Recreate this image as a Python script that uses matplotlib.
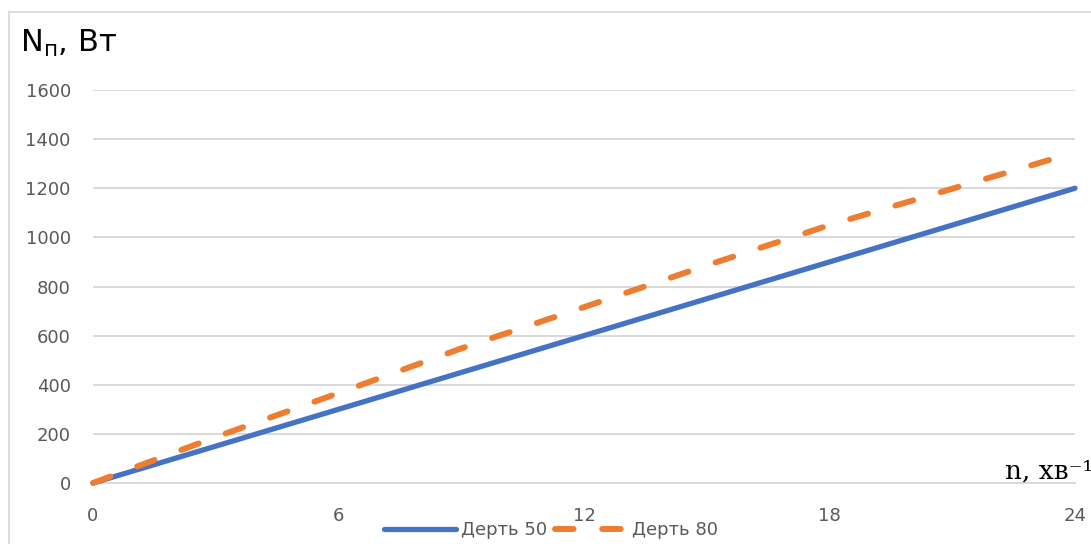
import matplotlib
matplotlib.use('Agg')
import matplotlib.pyplot as plt
from matplotlib.patches import Rectangle

# speed, 1/min
n = [0, 3, 6, 9, 12, 15, 18, 21, 24]
# power for the two feed types, W
power_50 = [0, 150, 300, 450, 600, 750, 900, 1050, 1200]
power_80 = [0, 187, 366, 548, 716, 886, 1050, 1198, 1346]

x_ticks = [0, 6, 12, 18, 24]
y_ticks = [0, 200, 400, 600, 800, 1000, 1200, 1400, 1600]

BLUE = '#4472C4'
ORANGE = '#ED7D31'
GREY = '#595959'
GRID = '#d9d9d9'

plt.rcParams['font.family'] = ['DejaVu Sans']

W, H = 1091, 544
fig = plt.figure(figsize=(W / 100, H / 100), dpi=100)

# outer chart frame (runs off the right and bottom edges)
fig.patches.append(Rectangle((9 / W, -0.1), 1.2, 1 - 12 / H + 0.1,
                             transform=fig.transFigure, fill=False,
                             edgecolor=GRID, linewidth=1.3))

ax = fig.add_axes([93 / W, 1 - 483 / H, (1075 - 93) / W, (483 - 90) / H])

ax.plot(n, power_50, color=BLUE, linewidth=3.8, solid_capstyle='round',
        label='Дерть 50', clip_on=False, zorder=3)
ax.plot(n, power_80, color=ORANGE, linewidth=4.3, dashes=(3.1, 4.8),
        dash_capstyle='round', label='Дерть 80', clip_on=False, zorder=4)

ax.set_xlim(0, 24)
ax.set_ylim(0, 1600)
ax.set_xticks(x_ticks)
ax.set_yticks(y_ticks)
ax.grid(axis='y', color=GRID, linewidth=1.4)
ax.set_axisbelow(True)
for side in ['top', 'right', 'left']:
    ax.spines[side].set_visible(False)
ax.spines['bottom'].set_color(GRID)
ax.spines['bottom'].set_linewidth(1.4)
ax.tick_params(axis='both', length=0, labelsize=13, labelcolor=GREY)
ax.tick_params(axis='x', pad=17)
ax.tick_params(axis='y', pad=16)

fig.text(20 / W, 1 - 52 / H, r'N$_{\mathregular{п}}$, Вт', fontsize=22,
         color='black', ha='left', va='baseline')
fig.text(1005 / W, 1 - 479 / H, 'n, хв⁻¹', fontsize=19,
         family=['DejaVu Serif'], color='black', ha='left', va='baseline')

fig.legend(loc='center', bbox_to_anchor=(551 / W, 1 - 530 / H), ncol=2,
           frameon=False, fontsize=13, labelcolor=GREY, handlelength=4.0,
           handletextpad=0.3, columnspacing=0.4, borderpad=0)

fig.savefig('out.png', dpi=100)
